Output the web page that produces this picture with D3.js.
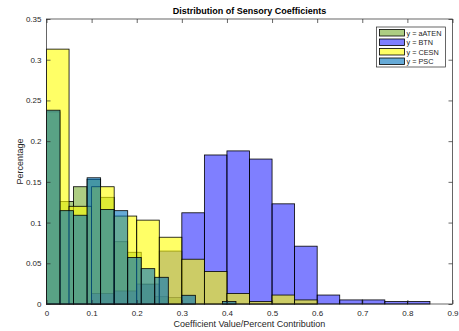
<!DOCTYPE html>
<html>
<head>
  <meta charset="utf-8">
  <style>
    body { margin: 0; background: #fff; }
    text { font-family: "Liberation Sans", Arial, Helvetica, sans-serif; fill: #262626; }
    .frame { fill: none; stroke: #262626; stroke-width: 0.7px; }
    .tick line { stroke: #262626; stroke-width: 0.7px; }
    .bar { stroke: #000; stroke-width: 0.8px; }
  </style>
  <script src="https://d3js.org/d3.v7.min.js"></script>
</head>
<body>
  <div id="chart"></div>
  <script>
    // histogram heights (probability), one array per series
    var seriesNames = ["aATEN", "BTN", "CESN", "PSC"];
    var binStarts = [0, 0, 0, 0];
    var binWidths = [0.03, 0.05, 0.05, 0.03];
    var aatenValues = [0.236, 0.126, 0.144, 0.153, 0.131, 0.0765, 0.0635, 0.024, 0.009, 0.008];
    var btnValues = [0, 0, 0.013, 0.016, 0.0245, 0.065, 0.112, 0.183, 0.188, 0.178, 0.123, 0.071, 0.011, 0.005, 0.005, 0.003, 0.003];
    var cesnValues = [0.313, 0.12, 0.144, 0.108, 0.103, 0.082, 0.055, 0.040, 0.013, 0.003, 0.011, 0.005];
    var pscValues = [0.238, 0.1146, 0.109, 0.155, 0.116, 0.1146, 0.057, 0.0434, 0.0328, 0, 0.0107, 0, 0, 0.003];
    var faceColors = ["#77ac30", "#0000ff", "#ffff00", "#0072bd"];
    var faceAlphas = [0.6, 0.5, 0.6, 0.6];

    var xTicks = [0, 0.1, 0.2, 0.3, 0.4, 0.5, 0.6, 0.7, 0.8, 0.9];
    var xTickLabels = ["0", "0.1", "0.2", "0.3", "0.4", "0.5", "0.6", "0.7", "0.8", "0.9"];
    var yTicks = [0, 0.05, 0.1, 0.15, 0.2, 0.25, 0.3, 0.35];
    var yTickLabels = ["0", "0.05", "0.1", "0.15", "0.2", "0.25", "0.3", "0.35"];

    var allValues = [aatenValues, btnValues, cesnValues, pscValues];

    var width = 459, height = 331;
    var plot = { left: 46.5, right: 452.5, top: 19, bottom: 304 };

    var x = d3.scaleLinear().domain([0, 0.9]).range([plot.left, plot.right]);
    var y = d3.scaleLinear().domain([0, 0.35]).range([plot.bottom, plot.top]);

    var svg = d3.select("#chart").append("svg")
      .attr("width", width)
      .attr("height", height);

    // bars, drawn in legend order so later series sit on top
    allValues.forEach(function(vals, s) {
      var bins = vals.map(function(v, i) {
        return { x0: binStarts[s] + i * binWidths[s], x1: binStarts[s] + (i + 1) * binWidths[s], v: v };
      }).filter(function(d) { return d.v > 0; });

      svg.append("g")
        .selectAll("rect")
        .data(bins)
        .enter().append("rect")
        .attr("class", "bar")
        .attr("x", function(d) { return x(d.x0); })
        .attr("width", function(d) { return x(d.x1) - x(d.x0); })
        .attr("y", function(d) { return y(d.v); })
        .attr("height", function(d) { return y(0) - y(d.v); })
        .style("fill", faceColors[s])
        .style("fill-opacity", faceAlphas[s]);
    });

    // axes: ticks inside, on all four sides
    var tickLen = 4;
    var xAxisB = d3.axisBottom(x).tickValues(xTicks).tickSize(-tickLen).tickPadding(6)
      .tickFormat(function(d, i) { return xTickLabels[i]; });
    var xAxisT = d3.axisTop(x).tickValues(xTicks).tickSize(-tickLen).tickFormat("");
    var yAxisL = d3.axisLeft(y).tickValues(yTicks).tickSize(-tickLen).tickPadding(5)
      .tickFormat(function(d, i) { return yTickLabels[i]; });
    var yAxisR = d3.axisRight(y).tickValues(yTicks).tickSize(-tickLen).tickFormat("");

    [[xAxisB, "translate(0," + plot.bottom + ")"],
     [xAxisT, "translate(0," + plot.top + ")"],
     [yAxisL, "translate(" + plot.left + ",0)"],
     [yAxisR, "translate(" + plot.right + ",0)"]].forEach(function(a) {
      var g = svg.append("g").attr("transform", a[1]).call(a[0]);
      g.select(".domain").remove();
      g.selectAll("text").style("font-size", "8px").style("fill", "#262626")
        .style("font-family", "'Liberation Sans', Arial, sans-serif");
    });

    svg.append("rect")
      .attr("class", "frame")
      .attr("x", plot.left)
      .attr("y", plot.top)
      .attr("width", plot.right - plot.left)
      .attr("height", plot.bottom - plot.top);

    // title and labels
    svg.append("text")
      .attr("x", (plot.left + plot.right) / 2)
      .attr("y", 14)
      .attr("text-anchor", "middle")
      .style("font-size", "9px")
      .style("font-weight", "bold")
      .style("fill", "#000")
      .text("Distribution of Sensory Coefficients");

    svg.append("text")
      .attr("x", (plot.left + plot.right) / 2)
      .attr("y", 327)
      .attr("text-anchor", "middle")
      .style("font-size", "9px")
      .text("Coefficient Value/Percent Contribution");

    svg.append("text")
      .attr("transform", "translate(23," + (plot.top + plot.bottom) / 2 + ") rotate(-90)")
      .attr("text-anchor", "middle")
      .style("font-size", "9px")
      .text("Percentage");

    // legend
    var legend = svg.append("g").attr("transform", "translate(376.5,27)");
    legend.append("rect")
      .attr("width", 69)
      .attr("height", 40)
      .style("fill", "#fff")
      .style("stroke", "#262626")
      .style("stroke-width", 0.7);

    seriesNames.forEach(function(name, i) {
      var row = legend.append("g").attr("transform", "translate(3," + (2.5 + i * 9.5) + ")");
      row.append("rect")
        .attr("width", 25)
        .attr("height", 6.5)
        .style("fill", faceColors[i])
        .style("fill-opacity", faceAlphas[i])
        .style("stroke", "#000")
        .style("stroke-width", 0.8);
      row.append("text")
        .attr("x", 27)
        .attr("y", 6)
        .style("font-size", "7.3px")
        .text("y = " + name);
    });
  </script>
</body>
</html>
